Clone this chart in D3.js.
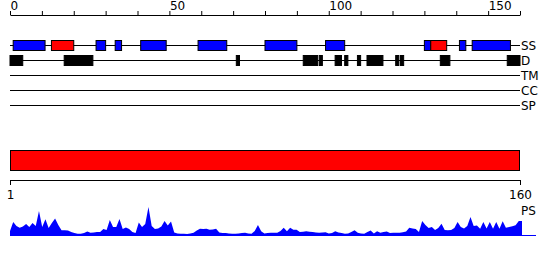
<!DOCTYPE html>
<html lang="en">
<head>
  <meta charset="utf-8">
  <title>Sequence feature tracks</title>
  <script src="https://cdn.jsdelivr.net/npm/d3@7/dist/d3.min.js"></script>
  <style>
    html, body { margin: 0; padding: 0; background: #fff; }
    svg { display: block; font-family: "DejaVu Sans", sans-serif; }
  </style>
</head>
<body>
  <svg id="chart" width="550" height="260"></svg>

  <script>
    /* ---------- data ---------- */
    const seqLength = 160;

    const topTicks      = [0, 10, 20, 30, 40, 50, 60, 70, 80, 90, 100, 110, 120, 130, 140, 150, 160];
    const topTickLabels = [0, 50, 100, 150];
    const bottomTicks   = [1, 160];

    const trackNames = ["SS", "D", "TM", "CC", "SP"];

    // secondary structure: blue and red segments [start, end]
    const ssBlue = [[1, 11], [27, 30], [33, 35], [41, 49], [59, 68], [80, 90],
                    [99, 105], [130, 132], [141, 143], [145, 157]];
    const ssRed  = [[13, 20], [132, 137]];

    // disorder segments
    const disorder = [[0, 4], [17, 26], [71, 72], [92, 96.5], [97, 98], [102, 104],
                      [105, 106], [109, 110], [112, 117], [121, 122], [122.5, 123.5],
                      [135, 138], [156, 160]];

    // whole-sequence bar
    const fullSpan = [1, 160];

    // PS profile, one value per residue
    const psValues = [
       5,   14,   10,  8.3,  9.5,   12,    9,   13,   10,   25,
       9, 16.7,    8,   13, 17.5,   11,  5.7,  5.7,  5.5,    4,
       3,  2.3,  2.3,    3,  4.5,  3.3,  3.5,    4,    4,    7,
       6,   16,    9,    9,   17,    7,  8.5,    7,    4,    3,
    13.5,    9,   12,   29,   10,    7,  7.5,  9.5,   15, 10.5,
    14.5,  3.5,  2.5,  2.3,  2.3,    2,  2.5,  3.3,  5.5,  7.3,
       7,  7.3,  6.3,  6.5,  7.3,  3.5,    3,    3,  2.5,  2.3,
     2.3,  2.5,    3,  3.3,  2.5,  2.3,    5,   11,  4.7,  2.5,
       3,  3.3,  3.3,  3.3,    5,  8.3,  4.7,  8.3,  6.3,  6.3,
       4,  4.3,  4.7,  4.3,    4,  3.5,  3.3,  3.5,  3.8,  2.5,
       3,  4.7,  3.5,    3,  2.3,  2.5,    4,  5.7,  3.3,  2.5,
     2.3,    4,  5.5,  2.5,  4.7,  3.3,    4,  4.5,    3,  3.3,
     3.3,  3.3,  3.8,  4.5,  8.3,  7.5,    7,    4,   15,   11,
       8,    9,    6,    8, 12.3,    6,  5.7,    6,    8,   14,
       9,  7.5,   10,   19,   10, 10.5,  7.3,   14,  7.5,   14,
     7.3,   14,  7.3, 14.7,  8.3,    9,  9.7, 10.7,   15,   15
    ];

    /* ---------- layout ---------- */
    const svg = d3.select("#chart");
    const left = 10, right = 520;
    const trackY = { SS: 45.5, D: 60.5, TM: 75.5, CC: 90.5, SP: 105.5 };

    const x   = d3.scaleLinear().domain([0, seqLength]).range([left, right]);
    const xR  = d3.scaleLinear().domain([1, seqLength]).range([left, right]);
    const xPs = d3.scaleLinear().domain([1, seqLength]).range([left, 522]);
    const yPs = d3.scaleLinear().domain([0, 30]).range([236, 206]);

    /* ---------- top axis ---------- */
    const topAxis = svg.append("g")
      .attr("transform", "translate(0,15)")
      .call(d3.axisTop(x)
        .tickValues(topTicks)
        .tickSize(4)
        .tickSizeOuter(0)
        .tickFormat(d => topTickLabels.includes(d) ? d : ""));
    topAxis.attr("font-family", null).attr("font-size", 12);
    topAxis.selectAll("text")
      .attr("text-anchor", "start")
      .attr("x", 0)
      .attr("y", -5)
      .attr("fill", "#000");
    topAxis.selectAll("path, line").attr("stroke", "#000");

    /* ---------- track lines + labels ---------- */
    svg.append("g").selectAll("line")
      .data(trackNames)
      .join("line")
        .attr("x1", x(0)).attr("x2", x(seqLength))
        .attr("y1", d => trackY[d]).attr("y2", d => trackY[d])
        .attr("stroke", "#000");

    svg.append("g").selectAll("text")
      .data(trackNames)
      .join("text")
        .attr("x", right + 1)
        .attr("y", d => trackY[d])
        .attr("dy", "0.36em")
        .attr("font-size", 12)
        .text(d => d);

    /* ---------- SS boxes ---------- */
    function segBoxes (segs, yc, h, fill, stroke) {
      svg.append("g").selectAll("rect")
        .data(segs)
        .join("rect")
          .attr("x", d => x(d[0]))
          .attr("width", d => x(d[1]) - x(d[0]))
          .attr("y", yc - h / 2)
          .attr("height", h)
          .attr("fill", fill)
          .attr("stroke", stroke);
    }
    segBoxes(ssBlue, trackY.SS, 10, "#0000ff", "#000");
    segBoxes(ssRed,  trackY.SS, 10, "#ff0000", "#000");
    segBoxes(disorder, trackY.D, 10, "#000", "#000");

    /* ---------- full bar + bottom axis ---------- */
    svg.append("rect")
      .attr("x", xR(fullSpan[0]) + 0.5)
      .attr("width", xR(fullSpan[1]) - xR(fullSpan[0]) - 1)
      .attr("y", 150.5)
      .attr("height", 20)
      .attr("fill", "#ff0000")
      .attr("stroke", "#000");

    const botAxis = svg.append("g")
      .attr("transform", "translate(0,180)")
      .call(d3.axisBottom(xR)
        .tickValues(bottomTicks)
        .tickSize(5)
        .tickSizeOuter(0));
    botAxis.attr("font-family", null).attr("font-size", 12);
    botAxis.selectAll("text").attr("y", 10).attr("fill", "#000");
    botAxis.selectAll("path, line").attr("stroke", "#000");

    svg.append("text")
      .attr("x", right + 1)
      .attr("y", 215)
      .attr("font-size", 12)
      .text("PS");

    /* ---------- PS profile ---------- */
    svg.append("line")
      .attr("x1", left).attr("x2", 536)
      .attr("y1", yPs(0) - 0.5).attr("y2", yPs(0) - 0.5)
      .attr("stroke", "#0000ff");

    const area = d3.area()
      .x((d, i) => xPs(i + 1))
      .y0(yPs(0))
      .y1(d => yPs(d));

    svg.append("path")
      .datum(psValues)
      .attr("fill", "#0000ff")
      .attr("d", area);
  </script>
</body>
</html>
